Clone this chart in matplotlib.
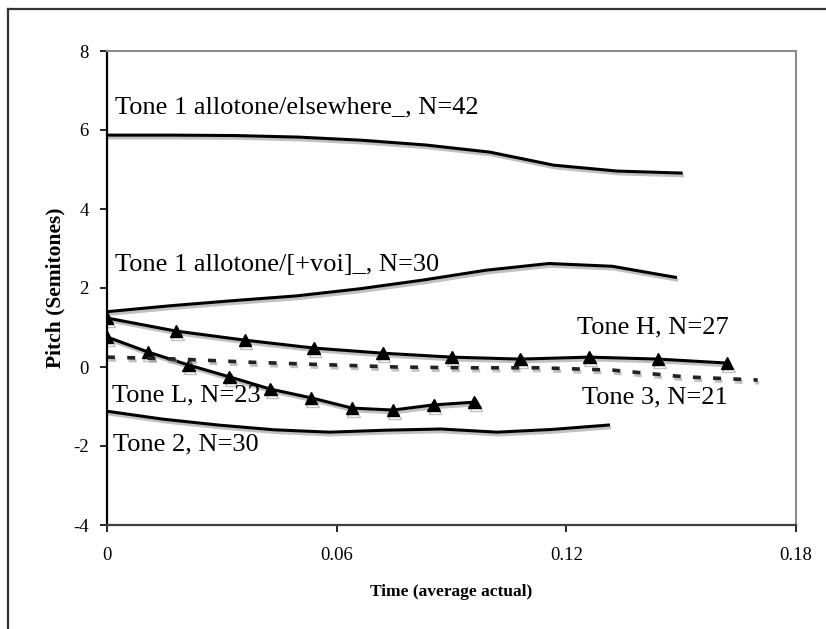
import numpy as np
import matplotlib
matplotlib.use('Agg')
import matplotlib.pyplot as plt
import matplotlib.patheffects as pe
from matplotlib.lines import Line2D

# mean pitch tracks, semitones relative to speaker mean
t_elsewhere = [0.0, 0.0167, 0.0333, 0.05, 0.0667, 0.0833, 0.1, 0.1167, 0.1333, 0.15]
p_elsewhere = [5.87, 5.87, 5.86, 5.82, 5.74, 5.62, 5.44, 5.11, 4.96, 4.91]

t_voi = [0.0, 0.0165, 0.033, 0.0495, 0.066, 0.0825, 0.099, 0.1155, 0.132, 0.1485]
p_voi = [1.40, 1.55, 1.68, 1.80, 1.98, 2.20, 2.45, 2.62, 2.55, 2.27]

t_H = [0.0, 0.018, 0.036, 0.054, 0.072, 0.09, 0.108, 0.126, 0.144, 0.162]
p_H = [1.24, 0.91, 0.68, 0.48, 0.35, 0.25, 0.20, 0.25, 0.20, 0.10]

t_L = [0.0, 0.0107, 0.0213, 0.032, 0.0427, 0.0533, 0.064, 0.0747, 0.0853, 0.096]
p_L = [0.76, 0.38, 0.05, -0.25, -0.56, -0.78, -1.04, -1.09, -0.96, -0.89]

t_3 = [0.0, 0.0189, 0.0378, 0.0567, 0.0756, 0.0944, 0.1133, 0.1322, 0.1511, 0.17]
p_3 = [0.25, 0.20, 0.12, 0.06, 0.0, -0.02, -0.02, -0.08, -0.25, -0.33]

t_2 = [0.0, 0.0146, 0.0291, 0.0437, 0.0582, 0.0728, 0.0873, 0.1019, 0.1164, 0.131]
p_2 = [-1.12, -1.32, -1.47, -1.59, -1.65, -1.60, -1.57, -1.65, -1.58, -1.47]

labels = ['Tone 1 allotone/elsewhere_, N=42', 'Tone 1 allotone/[+voi]_, N=30',
          'Tone H, N=27', 'Tone L, N=23', 'Tone 3, N=21', 'Tone 2, N=30']
label_xy = [(0.0021, 6.58), (0.0021, 2.58), (0.1228, 1.01),
            (0.0013, -0.73), (0.124, -0.78), (0.0016, -1.97)]

plt.rcParams['font.family'] = ['Liberation Serif', 'DejaVu Serif']
plt.rcParams['axes.unicode_minus'] = False

fig = plt.figure(figsize=(8.26, 6.29), dpi=100)
ax = fig.add_axes([107/826, 104/629, 689/826, 474/629])

shadow = [pe.SimpleLineShadow(offset=(1, -2), shadow_color='0.6', alpha=0.6), pe.Normal()]
line_kw = dict(color='black', lw=2.2, path_effects=shadow, solid_joinstyle='round')

ax.plot(t_elsewhere, p_elsewhere, **line_kw)
ax.plot(t_voi, p_voi, **line_kw)
ax.plot(t_H, p_H, marker='^', ms=9, **line_kw)
ax.plot(t_L, p_L, marker='^', ms=9, **line_kw)
ax.plot(t_2, p_2, **line_kw)
ax.plot(t_3, p_3, color='#222222', lw=2.6, dashes=(2.2, 3.4),
        path_effects=shadow)

for txt, (x, y) in zip(labels, label_xy):
    ax.text(x, y, txt, fontsize=19, va='center', ha='left')

ax.set_xlim(0, 0.18)
ax.set_ylim(-4, 8)
ax.set_xticks([0, 0.06, 0.12, 0.18])
ax.set_xticklabels(['0', '0.06', '0.12', '0.18'])
ax.set_yticks([-4, -2, 0, 2, 4, 6, 8])
ax.tick_params(direction='out', length=5, width=1.2, labelsize=13.5)
ax.tick_params(axis='x', pad=11)
ax.tick_params(axis='y', pad=8)

for side in ['top', 'right']:
    ax.spines[side].set_color('0.55')
    ax.spines[side].set_linewidth(1.5)
ax.spines['left'].set_linewidth(1.6)
ax.spines['bottom'].set_linewidth(1.6)
ax.spines['bottom'].set_color('0.25')

ax.set_xlabel('Time (average actual)', fontsize=12.5, fontweight='bold', labelpad=14)
ax.set_ylabel('Pitch (Semitones)', fontsize=15.5, fontweight='bold', labelpad=6)

# outer frame (only left and top edges fall inside the canvas)
fig.add_artist(Line2D([8/826, 8/826], [0, 1 - 9/629], color='0.2', lw=1.6))
fig.add_artist(Line2D([8/826, 1], [1 - 9/629, 1 - 9/629], color='0.2', lw=1.6))

fig.savefig('out.png', dpi=100)
